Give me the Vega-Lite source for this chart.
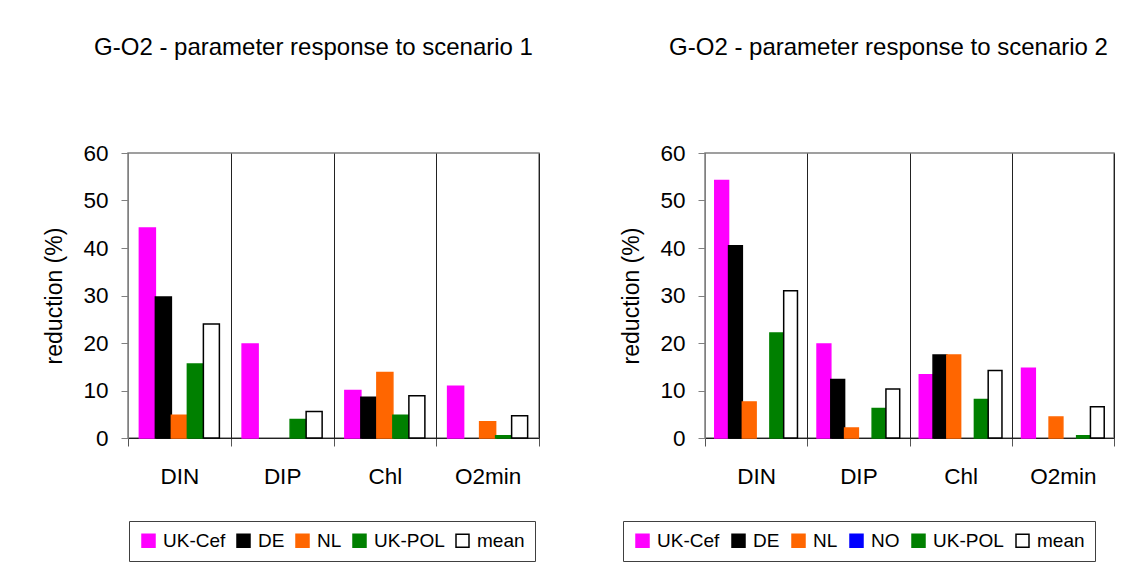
{
  "$schema": "https://vega.github.io/schema/vega-lite/v6.json",
  "padding": {"left": 43, "top": 35, "right": 0, "bottom": 0},
  "background": "white",
  "datasets": {
    "s1": [
      {"param": "DIN", "series": "UK-Cef", "value": 44.2},
      {"param": "DIN", "series": "DE", "value": 29.7},
      {"param": "DIN", "series": "NL", "value": 4.8},
      {"param": "DIN", "series": "UK-POL", "value": 15.6},
      {"param": "DIN", "series": "mean", "value": 24.0},
      {"param": "DIP", "series": "UK-Cef", "value": 19.8},
      {"param": "DIP", "series": "DE", "value": 0},
      {"param": "DIP", "series": "NL", "value": 0},
      {"param": "DIP", "series": "UK-POL", "value": 3.9},
      {"param": "DIP", "series": "mean", "value": 5.6},
      {"param": "Chl", "series": "UK-Cef", "value": 10.0},
      {"param": "Chl", "series": "DE", "value": 8.6},
      {"param": "Chl", "series": "NL", "value": 13.8},
      {"param": "Chl", "series": "UK-POL", "value": 4.8},
      {"param": "Chl", "series": "mean", "value": 8.9},
      {"param": "O2min", "series": "UK-Cef", "value": 10.9},
      {"param": "O2min", "series": "DE", "value": 0},
      {"param": "O2min", "series": "NL", "value": 3.4},
      {"param": "O2min", "series": "UK-POL", "value": 0.5},
      {"param": "O2min", "series": "mean", "value": 4.7}
    ],
    "s2": [
      {"param": "DIN", "series": "UK-Cef", "value": 54.2},
      {"param": "DIN", "series": "DE", "value": 40.5},
      {"param": "DIN", "series": "NL", "value": 7.6},
      {"param": "DIN", "series": "NO", "value": 0},
      {"param": "DIN", "series": "UK-POL", "value": 22.1},
      {"param": "DIN", "series": "mean", "value": 31.0},
      {"param": "DIP", "series": "UK-Cef", "value": 19.8},
      {"param": "DIP", "series": "DE", "value": 12.3},
      {"param": "DIP", "series": "NL", "value": 2.1},
      {"param": "DIP", "series": "NO", "value": 0},
      {"param": "DIP", "series": "UK-POL", "value": 6.2},
      {"param": "DIP", "series": "mean", "value": 10.3},
      {"param": "Chl", "series": "UK-Cef", "value": 13.3},
      {"param": "Chl", "series": "DE", "value": 17.5},
      {"param": "Chl", "series": "NL", "value": 17.5},
      {"param": "Chl", "series": "NO", "value": 0},
      {"param": "Chl", "series": "UK-POL", "value": 8.1},
      {"param": "Chl", "series": "mean", "value": 14.2},
      {"param": "O2min", "series": "UK-Cef", "value": 14.7},
      {"param": "O2min", "series": "DE", "value": 0},
      {"param": "O2min", "series": "NL", "value": 4.4},
      {"param": "O2min", "series": "NO", "value": 0},
      {"param": "O2min", "series": "UK-POL", "value": 0.5},
      {"param": "O2min", "series": "mean", "value": 6.6}
    ]
  },
  "spacing": 79,
  "resolve": {
    "scale": {"fill": "independent", "stroke": "independent", "xOffset": "independent", "x": "independent", "y": "independent"},
    "legend": {"fill": "independent", "stroke": "independent"}
  },
  "hconcat": [
    {
      "width": 411,
      "height": 285,
      "data": {"name": "s1"},
      "transform": [{"filter": "datum.value > 0"}],
      "title": {"text": "G-O2 - parameter response to scenario 1", "frame": "group", "anchor": "middle", "dx": -20, "offset": 63, "baseline": "alphabetic"},
      "mark": {"type": "bar", "strokeWidth": 1.5},
      "encoding": {
        "x": {"field": "param", "type": "nominal", "sort": ["DIN", "DIP", "Chl", "O2min"], "scale": {"domain": ["DIN", "DIP", "Chl", "O2min"], "paddingInner": 0, "paddingOuter": 0}, "axis": {"title": null}},
        "xOffset": {"field": "series", "type": "nominal", "scale": {"domain": ["UK-Cef", "DE", "NL", "UK-POL", "mean"], "paddingInner": 0, "paddingOuter": 0.71}},
        "y": {"field": "value", "type": "quantitative", "scale": {"domain": [0, 60]}, "axis": {"title": "reduction (%)", "values": [0, 10, 20, 30, 40, 50, 60]}},
        "fill": {"field": "series", "type": "nominal", "scale": {"domain": ["UK-Cef", "DE", "NL", "UK-POL", "mean"], "range": ["#FF00FF", "#000000", "#FF6600", "#008000", "#FFFFFF"]}, "legend": {"orient": "none", "legendX": 1, "legendY": 368, "columnPadding": 8, "labelOffset": 5}},
        "stroke": {"field": "series", "type": "nominal", "scale": {"domain": ["UK-Cef", "DE", "NL", "UK-POL", "mean"], "range": ["#FF00FF", "#000000", "#FF6600", "#008000", "#000000"]}, "legend": {"orient": "none", "legendX": 1, "legendY": 368, "columnPadding": 8, "labelOffset": 5}}
      }
    },
    {
      "width": 409,
      "height": 285,
      "data": {"name": "s2"},
      "transform": [{"filter": "datum.value > 0"}],
      "title": {"text": "G-O2 - parameter response to scenario 2", "frame": "group", "anchor": "middle", "dx": -21, "offset": 63, "baseline": "alphabetic"},
      "mark": {"type": "bar", "strokeWidth": 1.5},
      "encoding": {
        "x": {"field": "param", "type": "nominal", "sort": ["DIN", "DIP", "Chl", "O2min"], "scale": {"domain": ["DIN", "DIP", "Chl", "O2min"], "paddingInner": 0, "paddingOuter": 0}, "axis": {"title": null}},
        "xOffset": {"field": "series", "type": "nominal", "scale": {"domain": ["UK-Cef", "DE", "NL", "NO", "UK-POL", "mean"], "paddingInner": 0, "paddingOuter": 0.71}},
        "y": {"field": "value", "type": "quantitative", "scale": {"domain": [0, 60]}, "axis": {"title": "reduction (%)", "values": [0, 10, 20, 30, 40, 50, 60]}},
        "fill": {"field": "series", "type": "nominal", "scale": {"domain": ["UK-Cef", "DE", "NL", "NO", "UK-POL", "mean"], "range": ["#FF00FF", "#000000", "#FF6600", "#0000FF", "#008000", "#FFFFFF"]}, "legend": {"orient": "none", "legendX": -82, "legendY": 368, "columnPadding": 9, "labelOffset": 5}},
        "stroke": {"field": "series", "type": "nominal", "scale": {"domain": ["UK-Cef", "DE", "NL", "NO", "UK-POL", "mean"], "range": ["#FF00FF", "#000000", "#FF6600", "#0000FF", "#008000", "#000000"]}, "legend": {"orient": "none", "legendX": -82, "legendY": 368, "columnPadding": 9, "labelOffset": 5}}
      }
    }
  ],
  "config": {
    "font": "Liberation Sans",
    "view": {"stroke": "#808080", "strokeWidth": 1.5},
    "title": {"fontSize": 24, "fontWeight": "normal", "color": "#000", "font": "Liberation Sans"},
    "axisX": {"labelAngle": 0, "tickBand": "extent", "grid": true, "gridColor": "#222", "gridOpacity": 1, "gridWidth": 1, "tickSize": 8, "tickColor": "#555", "domainColor": "#222", "labelFontSize": 22.5, "labelPadding": 19, "labelColor": "#000", "labelFont": "Liberation Sans"},
    "axisY": {"grid": false, "tickSize": 7, "labelPadding": 13, "labelFontSize": 22.5, "labelColor": "#000", "titleFontSize": 23, "titleFontWeight": "normal", "titleColor": "#000", "titlePadding": 16, "domainColor": "#808080", "tickColor": "#808080", "labelFont": "Liberation Sans", "titleFont": "Liberation Sans"},
    "legend": {"direction": "horizontal", "title": null, "strokeColor": "#404040", "padding": 10, "labelFontSize": 19, "labelColor": "#000", "labelFont": "Liberation Sans", "symbolType": "square", "symbolSize": 169, "labelOffset": 5, "columnPadding": 10, "symbolStrokeWidth": 1.5, "symbolOpacity": 1}
  }
}
